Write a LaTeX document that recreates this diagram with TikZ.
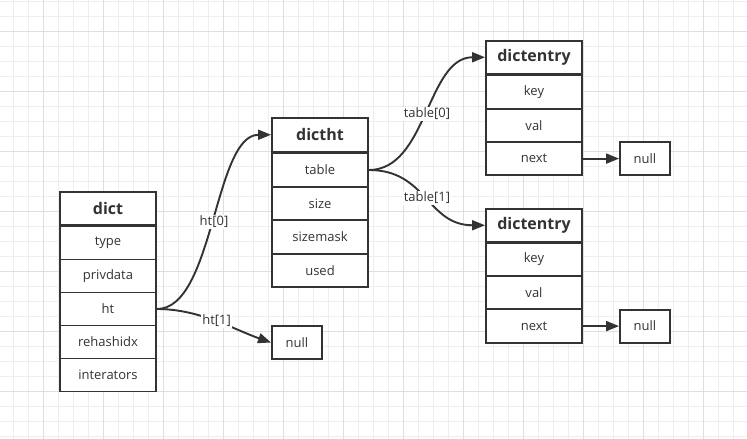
\documentclass[tikz,border=0pt]{standalone}
\usepackage{fontspec}
\setmainfont{Open Sans}
\usetikzlibrary{arrows.meta}
\definecolor{ink}{HTML}{333333}
\definecolor{gridlight}{HTML}{EEEEEE}
\definecolor{griddark}{HTML}{DFDFDF}
\begin{document}
\begin{tikzpicture}[x=1pt,y=-1pt,
  cell/.style={draw=ink, line width=1.9pt, fill=white, minimum width=96pt, minimum height=33.4pt, inner sep=0pt, text=ink, font=\fontsize{13}{15}\selectfont},
  hdr/.style={cell, font=\fontsize{16}{18}\selectfont\bfseries, minimum height=33pt},
  nullbox/.style={cell, minimum width=50pt, minimum height=33pt},
  link/.style={draw=ink, line width=1.9pt, -{Triangle[length=13pt,width=10pt]}},
  lbl/.style={fill=white, text=ink, inner sep=1pt, font=\fontsize{13}{15}\selectfont}
]
\useasboundingbox (0,0) rectangle (747,439);
\fill[white] (0,0) rectangle (747,439);
% grid
\foreach \i in {0,...,49} \draw[gridlight, line width=1pt] ({13.3+15*\i},0) -- ({13.3+15*\i},439);
\foreach \i in {0,...,29} \draw[gridlight, line width=1pt] (0,{1+15*\i}) -- (747,{1+15*\i});
\foreach \i in {0,...,12} \draw[griddark, line width=1pt] ({43.3+60*\i},0) -- ({43.3+60*\i},439);
\foreach \i in {0,...,7} \draw[griddark, line width=1pt] (0,{31+60*\i}) -- (747,{31+60*\i});

% dict
\node[hdr] (dict) at (108,208.5) {dict};
\node[cell, minimum height=33pt] (type) at (108,243) {type};
\node[cell, minimum height=33pt] (privdata) at (108,276) {privdata};
\node[cell, minimum height=33pt] (ht) at (108,309) {ht};
\node[cell, minimum height=33pt] (rehashidx) at (108,342) {rehashidx};
\node[cell, minimum height=33pt] (interators) at (108,375) {interators};

% dictht
\node[hdr, minimum height=33.5pt] (dictht) at (320,134.75) {dictht};
\node[cell, minimum height=33.5pt] (table) at (320,170) {table};
\node[cell, minimum height=33.5pt] (size) at (320,203.5) {size};
\node[cell, minimum height=33.5pt] (sizemask) at (320,237) {sizemask};
\node[cell, minimum height=33.5pt] (used) at (320,270.5) {used};

% null for ht[1]
\node[nullbox] (nullht) at (297,342.5) {null};

% dictentry 1
\node[hdr, minimum height=32.5pt] (de1) at (534,57.25) {dictentry};
\node[cell] (key1) at (534,92) {key};
\node[cell] (val1) at (534,125.3) {val};
\node[cell] (next1) at (534,158.6) {next};
\node[nullbox] (null1) at (645,158.6) {null};

% dictentry 2
\node[hdr, minimum height=32.5pt] (de2) at (534,225.25) {dictentry};
\node[cell] (key2) at (534,259.5) {key};
\node[cell] (val2) at (534,292.8) {val};
\node[cell] (next2) at (534,326.1) {next};
\node[nullbox] (null2) at (645,326.1) {null};

% connectors
\draw[link] (ht.east) .. controls (214,309) and (214,134.75) .. (dictht.west)
  node[lbl, pos=0.5] {ht[0]};
\draw[link] (ht.east) .. controls (200,309) and (235,330) .. (nullht.west)
  node[lbl, pos=0.5] {ht[1]};
\draw[link] (table.east) .. controls (427,170) and (427,57.25) .. (de1.west)
  node[lbl, pos=0.5] {table[0]};
\draw[link] (table.east) .. controls (427,170) and (427,225.25) .. (de2.west)
  node[lbl, pos=0.5] {table[1]};
\draw[link] (next1.east) -- (null1.west);
\draw[link] (next2.east) -- (null2.west);
\end{tikzpicture}
\end{document}
